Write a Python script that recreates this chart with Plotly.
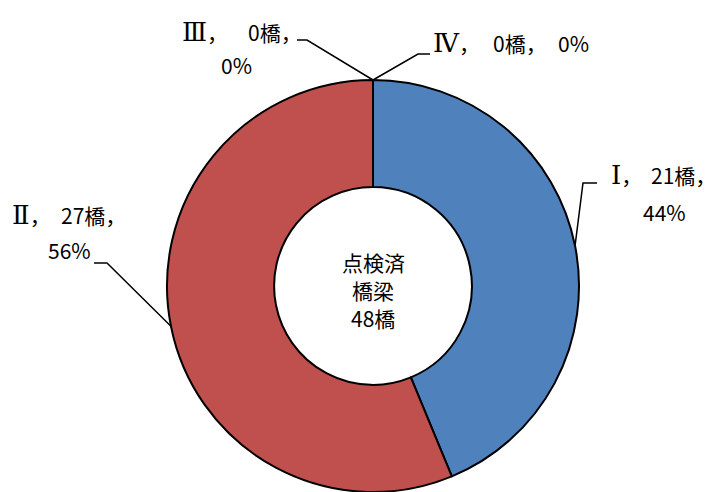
import math
import plotly.graph_objects as go

categories = ["Ⅰ", "Ⅱ", "Ⅲ", "Ⅳ"]
counts = [21, 27, 0, 0]
colors = ["#4F81BD", "#C0504D", "#9BBB59", "#8064A2"]
center_lines = ["点検済", "橋梁", "48橋"]

W, H = 723, 492
CX, CY, R = 373, 286, 206  # pie centre and radius in px
FONT = "Noto Sans CJK JP"
NUM_FONT = "DejaVu Serif"

total = sum(counts)


def px(x):
    return x / W


def py(y):
    return 1 - y / H


fig = go.Figure(go.Pie(
    labels=categories,
    values=counts,
    sort=False,
    direction="clockwise",
    rotation=0,
    hole=0.48,
    marker=dict(colors=colors, line=dict(color="black", width=2)),
    textinfo="none",
    hoverinfo="label+value+percent",
    showlegend=False,
    domain=dict(x=[px(CX - R), px(CX + R)], y=[py(CY + R), py(CY - R)]),
))

# label placement (px): leader elbow/tail, and text pieces
layout_info = {
    "Ⅰ": dict(elbow=(583, 183), tail=(597, 183),
              l1=(609, 649, 175), l2=(664, 212)),
    "Ⅱ": dict(elbow=(107, 263), tail=(94, 263),
              l1=(10, 59, 215), l2=(69, 250)),
    "Ⅲ": dict(elbow=(307, 40), tail=(297, 40),
              l1=(180, 246, 32), l2=(236, 65)),
    "Ⅳ": dict(elbow=(418, 54), tail=(430, 54),
              l1=(431, 491, 43), l2=(556, 43)),
}


def add_text(x, y, txt, xanchor="left", size=21):
    annotations.append(dict(x=px(x), y=py(y), xref="paper", yref="paper",
                            text=txt, showarrow=False, xanchor=xanchor,
                            yanchor="middle",
                            font=dict(family=FONT, size=size, color="black")))


shapes = []
annotations = []
cum = 0
for cat, v in zip(categories, counts):
    mid = (cum + v / 2) / total * 2 * math.pi
    cum += v
    ax = CX + R * math.sin(mid)
    ay = CY - R * math.cos(mid)
    info = layout_info[cat]
    ex, ey = info["elbow"]
    tx, ty = info["tail"]
    pct = round(v / total * 100)
    shapes.append(dict(type="path", xref="paper", yref="paper",
                       path=f"M {px(ax)} {py(ay)} L {px(ex)} {py(ey)} L {px(tx)} {py(ty)}",
                       line=dict(color="black", width=1.5)))
    x1, x2, y1 = info["l1"]
    add_text(x1, y1, f'<span style="font-family:{NUM_FONT};font-size:26px">{cat}</span>，')
    add_text(x2, y1, f"{v}橋，")
    if cat == "Ⅳ":
        add_text(info["l2"][0], info["l2"][1], f"{pct}%")
    else:
        add_text(info["l2"][0], info["l2"][1], f"{pct}%", xanchor="center")

for line, y in zip(center_lines, [262, 290, 318]):
    add_text(CX, y, line, xanchor="center", size=21)

fig.update_layout(
    width=W, height=H,
    margin=dict(l=0, r=0, t=0, b=0),
    paper_bgcolor="white", plot_bgcolor="white",
    shapes=shapes, annotations=annotations,
)

fig.write_html("out.html", config={"displayModeBar": False},
               post_script="document.body.style.margin='0';document.body.style.overflow='hidden';")
